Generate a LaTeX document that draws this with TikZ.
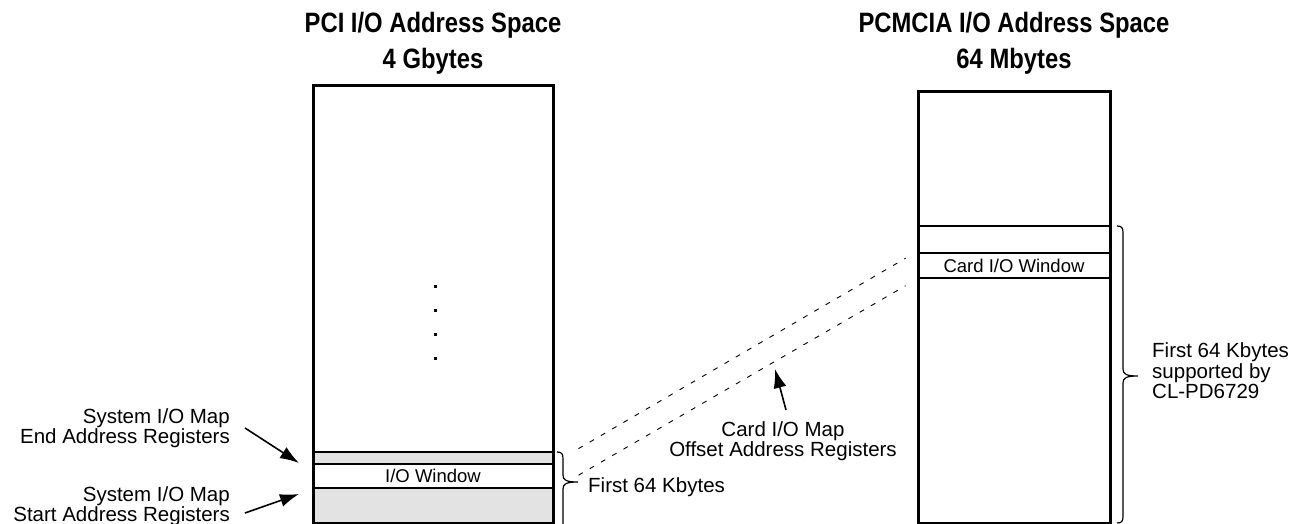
\documentclass[tikz,border=0pt]{standalone}
\usepackage{fontspec}
\setmainfont{Liberation Sans}
\newfontfamily\headfont[FakeStretch=0.85]{Liberation Sans}
\usetikzlibrary{arrows.meta,positioning}

\begin{document}
\begin{tikzpicture}[x=1pt,y=-1pt,>=Latex,
 ttl/.style={font=\headfont\bfseries\fontsize{28}{30}\selectfont,inner sep=0pt},
 lbl/.style={font=\fontsize{20.5}{20.5}\selectfont,inner sep=0pt},
 wall/.style={draw=black,line width=3pt},
 band/.style={draw=black,line width=2.5pt,fill=black!11},
 win/.style={draw=black,line width=2.5pt,inner sep=0pt,font=\fontsize{18.5}{18.5}\selectfont},
 link/.style={line width=0.9pt,dash pattern=on 5pt off 8pt},
 ptr/.style={-{Latex[length=19pt,width=13pt]},line width=1.6pt},
 curl/.style={line width=1.2pt}]
\useasboundingbox (0,0) rectangle (1302,524);
\node[ttl] (pcit) at (433,25) {PCI I/O Address Space};
\node[ttl] (pcis) at (433,61) {4 Gbytes};
\node[ttl] (cardt) at (1014,25) {PCMCIA I/O Address Space};
\node[ttl] (cards) at (1014,61) {64 Mbytes};
\filldraw[band] (313,452) rectangle (553,464);
\filldraw[band] (313,488) rectangle (553,523);
\node[win,minimum width=240pt,minimum height=24pt] (iow) at (433,476) {I/O Window};
\draw[wall] (313,86) rectangle (553,523);
\foreach \y in {286,310,334,358} \fill (433.5,\y-1.5) rectangle (436.5,\y+1.5);
\draw[wall] (918,92) rectangle (1110,523);
\draw[band,fill=none] (918,226) -- (1110,226);
\node[win,minimum width=192pt,minimum height=25pt] (cwin) at (1014,265.5) {Card I/O Window};
\node[lbl,align=right,anchor=east] (endreg) at (230,428) {System I/O Map\\End Address Registers};
\node[lbl,align=right,anchor=east] (startreg) at (230,506) {System I/O Map\\Start Address Registers};
\coordinate (endtip) at (299,463);
\coordinate (starttip) at (299,494);
\draw[ptr] ([xshift=15pt]endreg.east) -- (endtip);
\draw[ptr] ([xshift=15pt,yshift=-7pt]startreg.east) -- (starttip);
\draw[link,shorten <=28pt,shorten >=13pt] (iow.north east) -- (cwin.north west);
\draw[link,shorten <=28pt,shorten >=13pt] (iow.south east) -- (cwin.south west);
\node[lbl,align=center] (offreg) at (783,441) {Card I/O Map\\Offset Address Registers};
\coordinate (offtip) at (775,369);
\draw[ptr] ([xshift=3pt,yshift=11pt]offreg.north) -- (offtip);
\draw[curl] (557,452) .. controls (562,452) and (563,454) .. (563,459) -- (563,475)
 .. controls (563,480) and (566,482) .. (578,482) .. controls (566,482) and (563,484) .. (563,489) -- (563,526);
\node[lbl,anchor=west] (first) at (588,487) {First 64 Kbytes};
\draw[curl] (1117,226) .. controls (1122,226) and (1123,228) .. (1123,233) -- (1123,369)
 .. controls (1123,374) and (1126,376) .. (1138,376) .. controls (1126,376) and (1123,378) .. (1123,383)
 -- (1123,516) .. controls (1123,521) and (1122,523) .. (1117,523);
\node[lbl,align=left,anchor=west] (firstc) at (1152,371) {First 64 Kbytes\\supported by\\CL-PD6729};
\end{tikzpicture}
\end{document}
